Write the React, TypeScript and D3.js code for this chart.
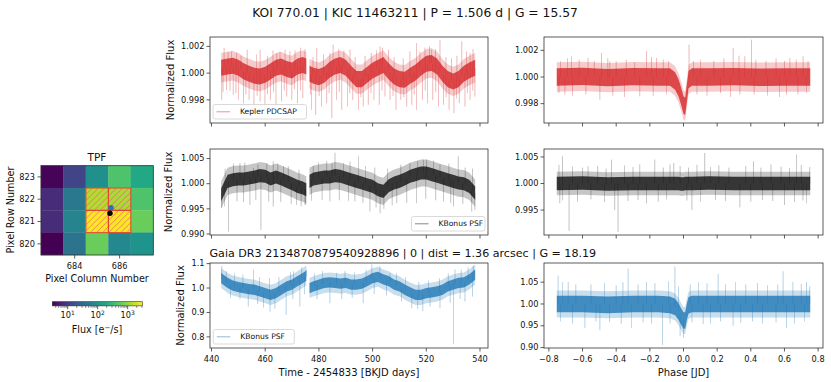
import React from "react";
import * as d3 from "d3";

// time knots in BKJD days, NaN marks the quarter gap
const timeKnots = [
  443.6, 446, 448, 450, 452, 454, 456, 458, 460, 462, 464, 466, 468, 470, 472, 474, 475.3, NaN,
  476.5, 478, 480, 482, 484, 486, 488, 490, 492, 494, 496, 498, 500, 502, 504, 506, 508, 510,
  512, 514, 516, 518, 520, 522, 524, 526, 528, 530, 532, 534, 536, 538.2,
];
const pdcsapTrend = [
  1.0004, 1.0005, 1.00055, 1.0004, 1.00013, 0.99995, 0.9998, 0.99975, 0.99988, 1.00013, 1.0004, 1.0005,
  1.0003, 1.0002, 1.0005, 1.0006, 1.0005, NaN,
  0.99995, 0.9998, 0.9997, 0.99988, 1.00025, 1.0005, 1.0006, 1.0004, 0.99995, 0.99955, 0.99955, 0.99988,
  1.0002, 1.0004, 1.0006, 1.00013, 0.99975, 0.99955, 0.9995, 0.9998, 1.00005, 1.0004, 1.0007, 1.00075,
  1.0005, 0.99995, 0.99955, 0.99938, 0.99955, 0.99995, 1.0002, 1.0004,
];
const psfTrend = [
  0.9978, 1.00047, 1.0008, 1.00093, 1.00093, 1.00113, 1.00133, 1.0016, 1.00147, 1.00093, 1.00133, 1.00093,
  1.00047, 1.0, 0.99947, 0.99913, 0.9988, NaN,
  1.00047, 1.00093, 1.00113, 1.00133, 1.00133, 1.0016, 1.00147, 1.00113, 1.0008, 1.00047, 1.00013, 0.9998,
  0.99947, 0.9988, 0.99847, 0.9996, 1.00013, 1.00047, 1.00093, 1.00147, 1.0018, 1.00213, 1.00213, 1.0018,
  1.00147, 1.00113, 1.0008, 1.00047, 1.00013, 1.0, 0.99947, 0.99813,
];
const gaiaTrend = [
  1.041, 1.021, 1.01, 1.004, 1.0, 0.996, 0.993, 0.986, 0.979, 0.972, 0.979, 0.993,
  1.007, 1.014, 1.028, 1.041, 1.051, NaN,
  1.0, 1.007, 1.014, 1.021, 1.023, 1.021, 1.018, 1.021, 1.014, 1.014, 1.018, 1.028,
  1.041, 1.046, 1.035, 1.028, 1.014, 1.007, 0.993, 0.982, 0.972, 0.972, 0.979, 0.982,
  0.986, 0.993, 1.007, 1.014, 1.021, 1.023, 1.035, 1.055,
];

// phase knots (days from mid-transit)
const phaseKnots = [
  -0.753, -0.6, -0.45, -0.3, -0.15, -0.08, -0.05, -0.03, -0.015, 0, 0.01, 0.02, 0.03, 0.05, 0.15, 0.3, 0.45,
  0.6, 0.753,
];
const pdcsapFoldTrend = [
  1.0, 1.00005, 0.99995, 1.00003, 1.0, 1.0, 0.9997, 0.9992, 0.9986, 0.9979, 0.9978, 0.9988, 0.9998, 1.0,
  1.0, 1.00003, 0.99998, 1.0, 1.0,
];
const psfFoldTrend = [
  1.0, 1.0001, 0.9999, 1.0, 1.0, 1.0, 1.0, 1.0, 0.9999, 0.9999, 1.0, 1.0, 1.0, 1.0, 1.0001, 1.0, 1.0, 1.0, 1.0,
];
const gaiaFoldTrend = [
  1.0, 1.0, 0.998, 1.0, 1.0, 0.998, 0.993, 0.983, 0.972, 0.962, 0.962, 0.982, 0.997, 1.0, 1.0, 1.0, 1.0, 1.0,
  1.0,
];

// point-to-point scatter: [dense core, outer] half widths
const pdcsapScatter = [0.0006, 0.0011];
const pdcsapFoldScatter = [0.00065, 0.0011];
const psfScatter = [0.0013, 0.0027];
const psfFoldScatter = [0.00127, 0.0022];
const gaiaScatter = [0.021, 0.041];
const gaiaFoldScatter = [0.019, 0.031];

// outlying cadences [x, flux]
const pdcsapSpikes = [
  [443.8, 0.998], [445.6, 0.99875], [448.1, 0.99838], [450.0, 0.998], [451.9, 0.99775], [454.0, 0.998],
  [455.8, 0.99738], [458.1, 0.99788], [459.9, 0.99725], [462.0, 0.998], [464.0, 0.9975], [466.1, 0.99788],
  [468.0, 0.99825], [469.9, 0.998], [472.0, 0.99775], [474.0, 0.99813], [477.3, 0.99725], [478.8, 0.99688],
  [481.0, 0.9975], [482.9, 0.99775], [484.8, 0.99663], [486.6, 0.998], [488.5, 0.99725], [490.6, 0.9975],
  [492.6, 0.998], [494.7, 0.99725], [496.5, 0.9975], [498.4, 0.99763], [500.5, 0.998], [502.5, 0.99763],
  [504.6, 0.99825], [506.5, 0.998], [508.7, 0.99725], [510.5, 0.998], [512.7, 0.9975], [514.6, 0.99763],
  [516.4, 0.99725], [518.6, 0.998], [520.4, 0.99775], [522.4, 0.998], [524.5, 0.9975], [526.4, 0.99763],
  [528.5, 0.99725], [530.3, 0.997], [532.3, 0.99775], [534.4, 0.9975], [536.3, 0.998], [538.1, 0.99825],
  [444.3, 0.9986], [446.9, 0.9987], [449.1, 0.9985], [452.8, 0.9984], [457.0, 0.9983], [460.9, 0.9984],
  [463.1, 0.9986], [467.1, 0.9987], [470.9, 0.9988], [473.1, 0.9987], [476.9, 0.9984], [480.1, 0.9983],
  [483.8, 0.9985], [487.6, 0.9986], [491.5, 0.9985], [495.6, 0.9982], [499.4, 0.9985], [503.5, 0.9987],
  [507.6, 0.9983], [511.6, 0.9982], [515.5, 0.9984], [519.6, 0.9987], [523.5, 0.9986], [527.4, 0.9982],
  [531.3, 0.9981], [535.3, 0.9985], [537.3, 0.9987],
  [444.7, 1.00188], [447.5, 1.00163], [453.3, 1.00175], [458.1, 1.00175], [464.3, 1.0015], [467.4, 1.00175],
  [469.2, 1.00163], [479.2, 1.00188], [484.1, 1.0015], [485.3, 1.00213], [491.6, 1.00175], [502.8, 1.002],
  [505.9, 1.00175], [513.9, 1.00163], [516.4, 1.00225], [522.0, 1.00175], [525.1, 1.0025], [533.2, 1.00238],
  [536.3, 1.0015],
  [446.2, 1.0016], [449.3, 1.0015], [451.0, 1.0013], [456.7, 1.0014], [460.8, 1.0013], [462.9, 1.0017],
  [465.5, 1.0016], [471.1, 1.0017], [473.2, 1.0019], [474.8, 1.0018], [477.8, 1.0012], [481.7, 1.0014],
  [487.4, 1.0018], [489.3, 1.0017], [493.5, 1.0012], [497.2, 1.0013], [499.5, 1.0015], [501.4, 1.0017],
  [503.7, 1.0019], [508.0, 1.0012], [511.4, 1.0011], [517.6, 1.0016], [519.5, 1.0019], [521.2, 1.002],
  [523.4, 1.0018], [527.3, 1.0012], [529.4, 1.0011], [531.4, 1.0013], [535.0, 1.0016], [537.4, 1.0018],
];
const pdcsapFoldSpikes = [
  [-0.665, 1.00155], [-0.567, 1.00143], [-0.487, 1.0018], [-0.438, 1.00118], [-0.22, 1.00193], [-0.16, 1.00143],
  [0.033, 1.00243], [0.295, 1.00218], [0.364, 1.00155], [0.404, 1.0028], [0.632, 1.00143], [0.711, 1.00155],
  [-0.73, 1.0012], [-0.69, 1.0014], [-0.62, 1.0013], [-0.53, 1.0012], [-0.45, 1.0014], [-0.4, 1.0012],
  [-0.34, 1.0013], [-0.29, 1.0011], [-0.19, 1.0015], [-0.12, 1.0013], [-0.09, 1.0012], [0.06, 1.0012],
  [0.1, 1.0013], [0.18, 1.0012], [0.24, 1.0014], [0.33, 1.0016], [0.43, 1.0013], [0.49, 1.0012],
  [0.55, 1.0014], [0.6, 1.0012], [0.67, 1.0013], [0.74, 1.0012],
  [-0.705, 0.99868], [-0.497, 0.9983], [-0.26, 0.99855], [0.335, 0.99868], [0.612, 0.99868],
  [-0.74, 0.9988], [-0.66, 0.9986], [-0.58, 0.9987], [-0.42, 0.9986], [-0.35, 0.9985], [-0.18, 0.9986],
  [-0.1, 0.9987], [0.08, 0.9987], [0.14, 0.9986], [0.22, 0.9988], [0.28, 0.9985], [0.42, 0.9987],
  [0.5, 0.9986], [0.57, 0.9985], [0.68, 0.9987], [0.73, 0.9988],
];
const psfSpikes = [
  [443.8, 0.99513], [446.3, 0.99047], [454.3, 0.9958], [458.4, 0.9908], [463.0, 0.99547], [471.7, 0.9958],
  [474.8, 0.9958], [484.1, 0.99647], [493.4, 0.99647], [499.0, 0.99447], [502.8, 0.99413], [509.0, 0.99613],
  [516.4, 0.99613], [526.4, 0.99647], [530.1, 0.99547], [536.9, 0.99447], [538.1, 0.9948],
  [444.9, 0.9955], [449.5, 0.9965], [451.9, 0.9963], [456.5, 0.9968], [461.3, 0.9965], [465.8, 0.9964],
  [469.7, 0.996], [473.4, 0.9955], [475.1, 0.9958], [477.3, 0.9966], [481.2, 0.9968], [487.6, 0.9967],
  [491.0, 0.9966], [496.4, 0.9962], [501.3, 0.9953], [504.2, 0.995], [507.3, 0.9957], [512.7, 0.9962],
  [519.8, 0.997], [523.5, 0.9967], [529.1, 0.9962], [533.6, 0.996],
  [450.6, 1.00413], [455.6, 1.00313], [463.0, 1.00447], [466.8, 1.00347], [477.9, 1.00347], [482.9, 1.00447],
  [486.0, 1.00613], [489.1, 1.00413], [494.7, 1.00547], [513.9, 1.00413], [520.1, 1.0048], [525.1, 1.0038],
  [531.9, 1.00547],
  [445.1, 1.003], [448.2, 1.004], [452.4, 1.0042], [457.3, 1.0038], [460.6, 1.0041], [464.7, 1.004],
  [468.6, 1.0035], [472.6, 1.0028], [479.8, 1.0042], [484.9, 1.004], [491.6, 1.0044], [497.3, 1.0035],
  [500.8, 1.0032], [505.5, 1.003], [510.5, 1.0038], [516.8, 1.0045], [518.9, 1.0048], [522.7, 1.0046],
  [528.4, 1.004], [534.5, 1.0032], [537.2, 1.003],
];
const psfFoldSpikes = [
  [-0.68, 0.99107], [-0.389, 0.99088], [0.05, 0.995], [0.335, 0.99551], [-0.409, 0.995], [-0.735, 0.99627],
  [0.6, 0.99595], [0.73, 0.99627], [-0.22, 0.99627],
  [-0.72, 0.9968], [-0.63, 0.9966], [-0.55, 0.997], [-0.47, 0.9965], [-0.33, 0.9967], [-0.27, 0.9969],
  [-0.15, 0.9966], [-0.1, 0.997], [0.02, 0.9968], [0.1, 0.9966], [0.19, 0.9969], [0.25, 0.9967],
  [0.4, 0.9966], [0.47, 0.9969], [0.53, 0.9967], [0.66, 0.9965], [0.71, 0.9968],
  [-0.719, 1.00513], [-0.428, 1.0045], [0.126, 1.00576], [0.671, 1.00544], [-0.171, 1.0045], [-0.567, 1.00323],
  [0.416, 1.00418], [-0.058, 1.00386],
  [-0.74, 1.0035], [-0.66, 1.0032], [-0.6, 1.003], [-0.51, 1.0033], [-0.46, 1.0028], [-0.35, 1.0034],
  [-0.3, 1.0031], [-0.26, 1.0036], [-0.12, 1.003], [-0.08, 1.0036], [-0.02, 1.0033], [0.03, 1.003],
  [0.08, 1.0035], [0.16, 1.0031], [0.21, 1.0034], [0.27, 1.003], [0.37, 1.0033], [0.46, 1.003],
  [0.52, 1.0036], [0.58, 1.0032], [0.63, 1.0029], [0.7, 1.0035], [0.75, 1.0031],
];
const gaiaSpikes = [
  [530.1, 0.77], [461.8, 0.903], [467.8, 0.89], [453.7, 0.924], [472.9, 0.924], [484.1, 0.938], [496.5, 0.938],
  [514.6, 0.917], [521.4, 0.924], [525.1, 0.917], [534.4, 0.945],
  [447.1, 0.96], [450.6, 0.955], [457.2, 0.935], [459.4, 0.92], [463.6, 0.915], [470.3, 0.955], [474.6, 0.975],
  [479.3, 0.955], [488.5, 0.955], [492.4, 0.96], [500.6, 0.975], [505.2, 0.97], [510.8, 0.945], [516.8, 0.915],
  [518.7, 0.905], [528.9, 0.94], [532.6, 0.955], [537.2, 0.965],
  [443.8, 1.09], [455.6, 1.076], [475.4, 1.076], [499.7, 1.097], [530.7, 1.076], [537.5, 1.092], [486.6, 1.062],
  [506.5, 1.062], [470.5, 1.069],
  [445.5, 1.07], [448.6, 1.06], [451.7, 1.055], [457.9, 1.045], [461.6, 1.04], [465.1, 1.045], [469.4, 1.065],
  [473.6, 1.085], [478.3, 1.06], [481.4, 1.07], [489.7, 1.07], [493.2, 1.065], [497.6, 1.075], [502.7, 1.09],
  [508.9, 1.06], [512.3, 1.045], [517.2, 1.025], [520.8, 1.03], [524.9, 1.04], [528.2, 1.06], [533.0, 1.075],
  [535.6, 1.085],
];
const gaiaFoldSpikes = [
  [-0.125, 0.906], [-0.497, 0.94], [-0.586, 0.945], [-0.31, 0.945], [0.0, 0.923], [-0.02, 0.927], [0.295, 0.95],
  [0.612, 0.945], [0.117, 0.954],
  [-0.73, 0.96], [-0.66, 0.955], [-0.52, 0.96], [-0.44, 0.958], [-0.37, 0.955], [-0.24, 0.958], [-0.19, 0.955],
  [-0.08, 0.955], [0.05, 0.958], [0.16, 0.955], [0.22, 0.96], [0.34, 0.957], [0.41, 0.96], [0.47, 0.955],
  [0.55, 0.958], [0.66, 0.955], [0.72, 0.96],
  [-0.745, 1.065], [-0.329, 1.081], [-0.051, 1.086], [0.206, 1.069], [0.592, 1.075], [0.731, 1.05],
  [-0.685, 1.05], [-0.22, 1.05],
  [-0.72, 1.05], [-0.64, 1.045], [-0.55, 1.045], [-0.47, 1.048], [-0.4, 1.043], [-0.36, 1.05], [-0.27, 1.045],
  [-0.17, 1.048], [-0.09, 1.052], [-0.03, 1.04], [0.04, 1.045], [0.09, 1.05], [0.14, 1.047], [0.25, 1.045],
  [0.31, 1.05], [0.37, 1.045], [0.44, 1.048], [0.5, 1.043], [0.56, 1.045], [0.65, 1.05], [0.7, 1.046],
  [0.75, 1.04],
];

const timeTicks = [440, 460, 480, 500, 520, 540];
const phaseTicks = [-0.8, -0.6, -0.4, -0.2, 0.0, 0.2, 0.4, 0.6, 0.8];

// target pixel file
const tpfCols = [683, 684, 685, 686, 687];
const tpfRows = [823, 822, 821, 820];
const tpfFlux = [
  [3.3, 12.3, 97, 442, 194],
  [7.1, 49, 1335, 1246, 442],
  [7.1, 69, 3070, 2866, 625],
  [3.07, 42.6, 625, 79, 111],
];
const aperture = [
  [685, 822], [686, 822], [685, 821], [686, 821],
];
const targetPos = [685.62, 821.62];
const centroidPos = [685.57, 821.37];

const font = "DejaVu Sans, sans-serif";
const red = "#d62728";
const black = "#111111";
const blue = "#1f77b4";

const minus = (s: string) => s.replace("-", "\u2212");

function LightCurve(p: any) {
  const x = d3.scaleLinear().domain(p.xDomain).range([p.x0, p.x1]);
  const y = d3.scaleLinear().domain(p.yDomain).range([p.y1, p.y0]);
  const ok = p.xs.map((v: number) => !isNaN(v));
  const band = (w: number) =>
    d3
      .area<number>()
      .defined((_, i) => ok[i])
      .x((_, i) => x(p.xs[i]))
      .y0((m) => y(m - w))
      .y1((m) => y(m + w))(p.mid);
  const xsClean = p.xs.filter((v: number) => !isNaN(v));
  const midClean = p.mid.filter((v: number) => !isNaN(v));
  const trendAt = d3.scaleLinear().domain(xsClean).range(midClean).clamp(true);
  const fmtY = d3.format(p.yFmt);
  const fmtX = d3.format(p.xFmt);
  const clipId = `clip-${p.id}`;
  return (
    <g>
      <clipPath id={clipId}>
        <rect x={p.x0} y={p.y0} width={p.x1 - p.x0} height={p.y1 - p.y0} />
      </clipPath>
      <g clipPath={`url(#${clipId})`}>
        <path d={band(p.scatter[1]) || ""} fill={p.color} opacity={0.24} />
        {p.spikes.map((s: number[], i: number) => (
          <line
            key={i}
            x1={x(s[0])}
            x2={x(s[0])}
            y1={y(trendAt(s[0]))}
            y2={y(s[1])}
            stroke={p.color}
            strokeWidth={0.65}
            opacity={p.spikeOpacity}
          />
        ))}
        <path d={band(p.scatter[0]) || ""} fill={p.color} opacity={0.8} />
      </g>
      <rect x={p.x0} y={p.y0} width={p.x1 - p.x0} height={p.y1 - p.y0} fill="none" stroke="#333" strokeWidth={0.8} />
      {p.yTicks.map((t: number) => (
        <g key={t}>
          <line x1={p.x0 - 3.5} x2={p.x0} y1={y(t)} y2={y(t)} stroke="#333" strokeWidth={0.8} />
          <text x={p.x0 - 5.5} y={y(t)} dy="0.33em" textAnchor="end" fontSize={8.2}>
            {fmtY(t)}
          </text>
        </g>
      ))}
      {p.xTicks.map((t: number) => (
        <g key={t}>
          <line x1={x(t)} x2={x(t)} y1={p.y1} y2={p.y1 + 3.5} stroke="#333" strokeWidth={0.8} />
          {p.showX && (
            <text x={x(t)} y={p.y1 + 13.5} textAnchor="middle" fontSize={8.2}>
              {minus(fmtX(t))}
            </text>
          )}
        </g>
      ))}
      {p.ylabelX && (
        <text
          transform={`translate(${p.ylabelX},${(p.y0 + p.y1) / 2}) rotate(-90)`}
          textAnchor="middle"
          fontSize={10}
        >
          Normalized Flux
        </text>
      )}
      {p.xlabel && (
        <text x={(p.x0 + p.x1) / 2} y={p.y1 + 28} textAnchor="middle" fontSize={10}>
          {p.xlabel}
        </text>
      )}
      {p.legend && (
        <g transform={`translate(${p.legend.x},${p.legend.y})`}>
          <rect width={p.legend.w} height={14.5} rx={2} fill="white" fillOpacity={0.85} stroke="#d0d0d0" strokeWidth={0.8} />
          <line x1={3.5} x2={17} y1={7.3} y2={7.3} stroke={p.color} strokeOpacity={0.5} strokeWidth={1} />
          <text x={27} y={7.3} dy="0.33em" fontSize={7.6}>
            {p.legend.label}
          </text>
        </g>
      )}
    </g>
  );
}

function Tpf() {
  const x = d3.scaleLinear().domain([682.5, 687.5]).range([41, 153.3]);
  const y = d3.scaleLinear().domain([819.5, 823.5]).range([255, 165.7]);
  const color = d3.scaleSequentialLog(d3.interpolateViridis).domain([3.07, 3070]);
  const cw = x(1) - x(0);
  const ch = y(0) - y(1);
  const cb = d3.scaleLog().domain([3.07, 3070]).range([52.3, 142.3]);
  const stops = d3.range(0, 1.0001, 0.1);
  const minor = [4, 5, 6, 7, 8, 9, 20, 30, 40, 50, 60, 70, 80, 90, 200, 300, 400, 500, 600, 700, 800, 900, 2000, 3000];
  const major = [10, 100, 1000];
  return (
    <g>
      <defs>
        <pattern id="hatch" width={4.3} height={4.3} patternUnits="userSpaceOnUse" patternTransform="rotate(45)">
          <line x1={0} y1={0} x2={0} y2={4.3} stroke="#ea4f7c" strokeWidth={0.9} />
        </pattern>
        <linearGradient id="viridis" x1="0" x2="1" y1="0" y2="0">
          {stops.map((t) => (
            <stop key={t} offset={t} stopColor={d3.interpolateViridis(t)} />
          ))}
        </linearGradient>
      </defs>
      {tpfRows.map((r, i) =>
        tpfCols.map((c, j) => (
          <rect
            key={`${r}-${c}`}
            x={x(c - 0.5)}
            y={y(r + 0.5)}
            width={cw}
            height={ch}
            fill={color(tpfFlux[i][j])}
            stroke={color(tpfFlux[i][j])}
            strokeWidth={0.3}
          />
        ))
      )}
      {aperture.map(([c, r]) => (
        <rect key={`a${c}${r}`} x={x(c - 0.5)} y={y(r + 0.5)} width={cw} height={ch} fill="url(#hatch)" stroke="#e4432c" strokeWidth={1} />
      ))}
      <circle cx={x(targetPos[0])} cy={y(targetPos[1])} r={2.7} fill={blue} />
      <circle cx={x(centroidPos[0])} cy={y(centroidPos[1])} r={2.7} fill="#000" />
      <rect x={41} y={165.7} width={112.3} height={89.3} fill="none" stroke="#333" strokeWidth={0.8} />
      <text x={97} y={161} textAnchor="middle" fontSize={10.5}>
        TPF
      </text>
      {tpfRows.map((r) => (
        <g key={r}>
          <line x1={37.5} x2={41} y1={y(r)} y2={y(r)} stroke="#333" strokeWidth={0.8} />
          <text x={35} y={y(r)} dy="0.33em" textAnchor="end" fontSize={8.2}>
            {r}
          </text>
        </g>
      ))}
      {[684, 686].map((c) => (
        <g key={c}>
          <line x1={x(c)} x2={x(c)} y1={255} y2={258.5} stroke="#333" strokeWidth={0.8} />
          <text x={x(c)} y={268.5} textAnchor="middle" fontSize={8.2}>
            {c}
          </text>
        </g>
      ))}
      <text transform="translate(13.5,210) rotate(-90)" textAnchor="middle" fontSize={9.6}>
        Pixel Row Number
      </text>
      <text x={97} y={282} textAnchor="middle" fontSize={9.6}>
        Pixel Column Number
      </text>
      <rect x={52.3} y={301.7} width={90} height={4.2} fill="url(#viridis)" stroke="#333" strokeWidth={0.6} />
      {minor.map((v) => (
        <line key={v} x1={cb(v)} x2={cb(v)} y1={305.9} y2={307.8} stroke="#333" strokeWidth={0.6} />
      ))}
      {major.map((v, i) => (
        <g key={v}>
          <line x1={cb(v)} x2={cb(v)} y1={305.9} y2={309.2} stroke="#333" strokeWidth={0.8} />
          <text x={cb(v)} y={318} textAnchor="middle" fontSize={8.2}>
            10
            <tspan dy={-3.5} fontSize={6}>
              {i + 1}
            </tspan>
          </text>
        </g>
      ))}
      <text x={97} y={333} textAnchor="middle" fontSize={9.6}>
        Flux [e
        <tspan dy={-3.5} fontSize={7}>
          {"\u2212"}
        </tspan>
        <tspan dy={3.5}>/s]</tspan>
      </text>
    </g>
  );
}

export default function App() {
  const left = { x0: 210, x1: 488, xDomain: [439.44, 542.98], xs: timeKnots, xTicks: timeTicks, xFmt: "d" };
  const right = { x0: 544, x1: 823, xDomain: [-0.829, 0.829], xs: phaseKnots, xTicks: phaseTicks, xFmt: ".1f" };
  const rows = [
    { y0: 37, y1: 123 },
    { y0: 149, y1: 235 },
    { y0: 263, y1: 348 },
  ];
  const panels = [
    {
      ...left, ...rows[0], id: "a", yDomain: [0.99627, 1.0027], mid: pdcsapTrend, scatter: pdcsapScatter,
      spikes: pdcsapSpikes, color: red, spikeOpacity: 0.5, yTicks: [0.998, 1.0, 1.002], yFmt: ".3f", ylabelX: 173.5,
      legend: { x: 213, y: 104.5, w: 93.5, label: "Kepler PDCSAP" },
    },
    {
      ...right, ...rows[0], id: "b", yDomain: [0.99655, 1.003], mid: pdcsapFoldTrend, scatter: pdcsapFoldScatter,
      spikes: pdcsapFoldSpikes, color: red, spikeOpacity: 0.5, yTicks: [0.998, 1.0, 1.002], yFmt: ".3f",
    },
    {
      ...left, ...rows[1], id: "c", yDomain: [0.9898, 1.0069], mid: psfTrend, scatter: psfScatter,
      spikes: psfSpikes, color: black, spikeOpacity: 0.38, yTicks: [0.99, 0.995, 1.0, 1.005], yFmt: ".3f", ylabelX: 172,
      legend: { x: 411.5, y: 216.5, w: 73.5, label: "KBonus PSF" },
    },
    {
      ...right, ...rows[1], id: "d", yDomain: [0.9903, 1.0065], mid: psfFoldTrend, scatter: psfFoldScatter,
      spikes: psfFoldSpikes, color: black, spikeOpacity: 0.38, yTicks: [0.995, 1.0, 1.005], yFmt: ".3f",
    },
    {
      ...left, ...rows[2], id: "e", yDomain: [0.7545, 1.1025], mid: gaiaTrend, scatter: gaiaScatter,
      spikes: gaiaSpikes, color: blue, spikeOpacity: 0.5, yTicks: [0.8, 0.9, 1.0, 1.1], yFmt: ".1f", ylabelX: 183.5,
      showX: true, xlabel: "Time - 2454833 [BKJD days]",
      legend: { x: 213.3, y: 329.5, w: 81, label: "KBonus PSF" },
    },
    {
      ...right, ...rows[2], id: "f", yDomain: [0.899, 1.094], mid: gaiaFoldTrend, scatter: gaiaFoldScatter,
      spikes: gaiaFoldSpikes, color: blue, spikeOpacity: 0.5, yTicks: [0.9, 0.95, 1.0, 1.05], yFmt: ".2f",
      showX: true, xlabel: "Phase [JD]",
    },
  ];
  return (
    <svg width={831} height={382} style={{ position: "absolute", left: 0, top: 0, background: "white" }} fontFamily={font} fill="#111">
      <text x={415} y={17} textAnchor="middle" fontSize={12.3}>
        KOI 770.01 | KIC 11463211 | P = 1.506 d | G = 15.57
      </text>
      <text x={209.5} y={257.3} fontSize={11.1}>
        Gaia DR3 2134870879540928896 | 0 | dist = 1.36 arcsec | G = 18.19
      </text>
      <Tpf />
      {panels.map((p) => (
        <LightCurve key={p.id} {...p} />
      ))}
    </svg>
  );
}
